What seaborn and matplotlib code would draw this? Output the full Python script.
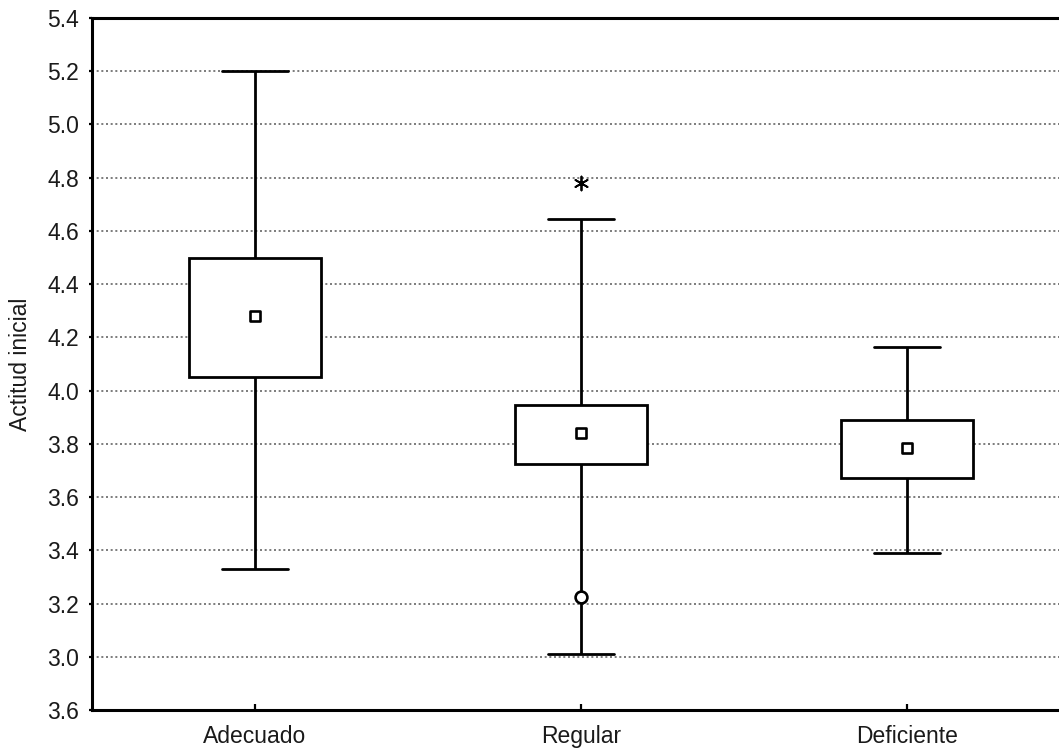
import numpy as np
import pandas as pd
import matplotlib
matplotlib.use("Agg")
import matplotlib.pyplot as plt
import seaborn as sns

# Groups and their summary values
categories = ["Adecuado", "Regular", "Deficiente"]
whisker_low = [3.33, 3.01, 3.39]
box_low = [4.05, 3.725, 3.67]
center = [4.28, 3.84, 3.785]
box_high = [4.50, 3.945, 3.89]
whisker_high = [5.20, 4.645, 4.165]

# Points plotted individually
outlier_group = ["Regular"]
outlier_value = [3.225]
extreme_group = ["Regular"]
extreme_value = [4.78]

y_ticks = [2.8, 3.0, 3.2, 3.4, 3.6, 3.8, 4.0, 4.2, 4.4, 4.6, 4.8, 5.0, 5.2, 5.4]
y_tick_labels = ["3.6", "3.0", "3.2", "3.4", "3.6", "3.8", "4.0", "4.2",
                 "4.4", "4.6", "4.8", "5.0", "5.2", "5.4"]
y_label = "Actitud inicial"

sns.set_theme(style="white")
plt.rcParams["font.family"] = ["Liberation Sans", "DejaVu Sans"]

# Five summary values per group -> quartiles and range seen by boxplot
rows = []
for i, cat in enumerate(categories):
    for v in (whisker_low[i], box_low[i], center[i], box_high[i], whisker_high[i]):
        rows.append({"grupo": cat, "valor": v})
df = pd.DataFrame(rows)
centers = pd.DataFrame({"grupo": categories, "valor": center})
outliers = pd.DataFrame({"grupo": outlier_group, "valor": outlier_value})
extremes = pd.DataFrame({"grupo": extreme_group, "valor": extreme_value})

fig = plt.figure(figsize=(10.59, 7.55), dpi=100)
ax = fig.add_axes([0.0869, 0.0596, 0.923, 0.9166])

sns.boxplot(data=df, x="grupo", y="valor", order=categories, ax=ax,
            whis=np.inf, width=0.405, color="white", linecolor="black",
            linewidth=2.0, showfliers=False,
            medianprops={"visible": False}, zorder=3)

sns.stripplot(data=centers, x="grupo", y="valor", order=categories, ax=ax,
              jitter=False, marker="s", size=7.5, color="white",
              edgecolor="black", linewidth=1.9, zorder=5)
sns.stripplot(data=outliers, x="grupo", y="valor", order=categories, ax=ax,
              jitter=False, marker="o", size=8.5, color="white",
              edgecolor="black", linewidth=1.9, zorder=5)
sns.stripplot(data=extremes, x="grupo", y="valor", order=categories, ax=ax,
              jitter=False, marker=(6, 2, 0), size=10, color="black",
              edgecolor="black", linewidth=1.3, zorder=5)

ax.set_xlim(-0.5, 2.5)
ax.set_ylim(2.8, 5.4)
ax.set_yticks(y_ticks)
ax.set_yticklabels(y_tick_labels)
ax.set_xlabel("")
ax.set_ylabel(y_label, fontsize=16.5, color="#1a1a1a")
ax.yaxis.set_label_coords(-0.0615, 0.5)

ax.yaxis.grid(True, linestyle=(0, (1.2, 1.6)), color="#666666", linewidth=1.2)
ax.xaxis.grid(False)
ax.set_axisbelow(True)

for side in ("left", "top", "bottom", "right"):
    ax.spines[side].set_color("black")
    ax.spines[side].set_linewidth(2.2)

ax.tick_params(axis="y", direction="out", length=2.5, width=1.6,
               color="black", labelsize=16.5, pad=7, left=True,
               labelcolor="#1a1a1a")
ax.tick_params(axis="x", direction="in", length=4, width=1.6,
               color="black", labelsize=16.5, pad=11, bottom=True,
               labelcolor="#1a1a1a")

fig.savefig("out.png", dpi=100, facecolor="white")
